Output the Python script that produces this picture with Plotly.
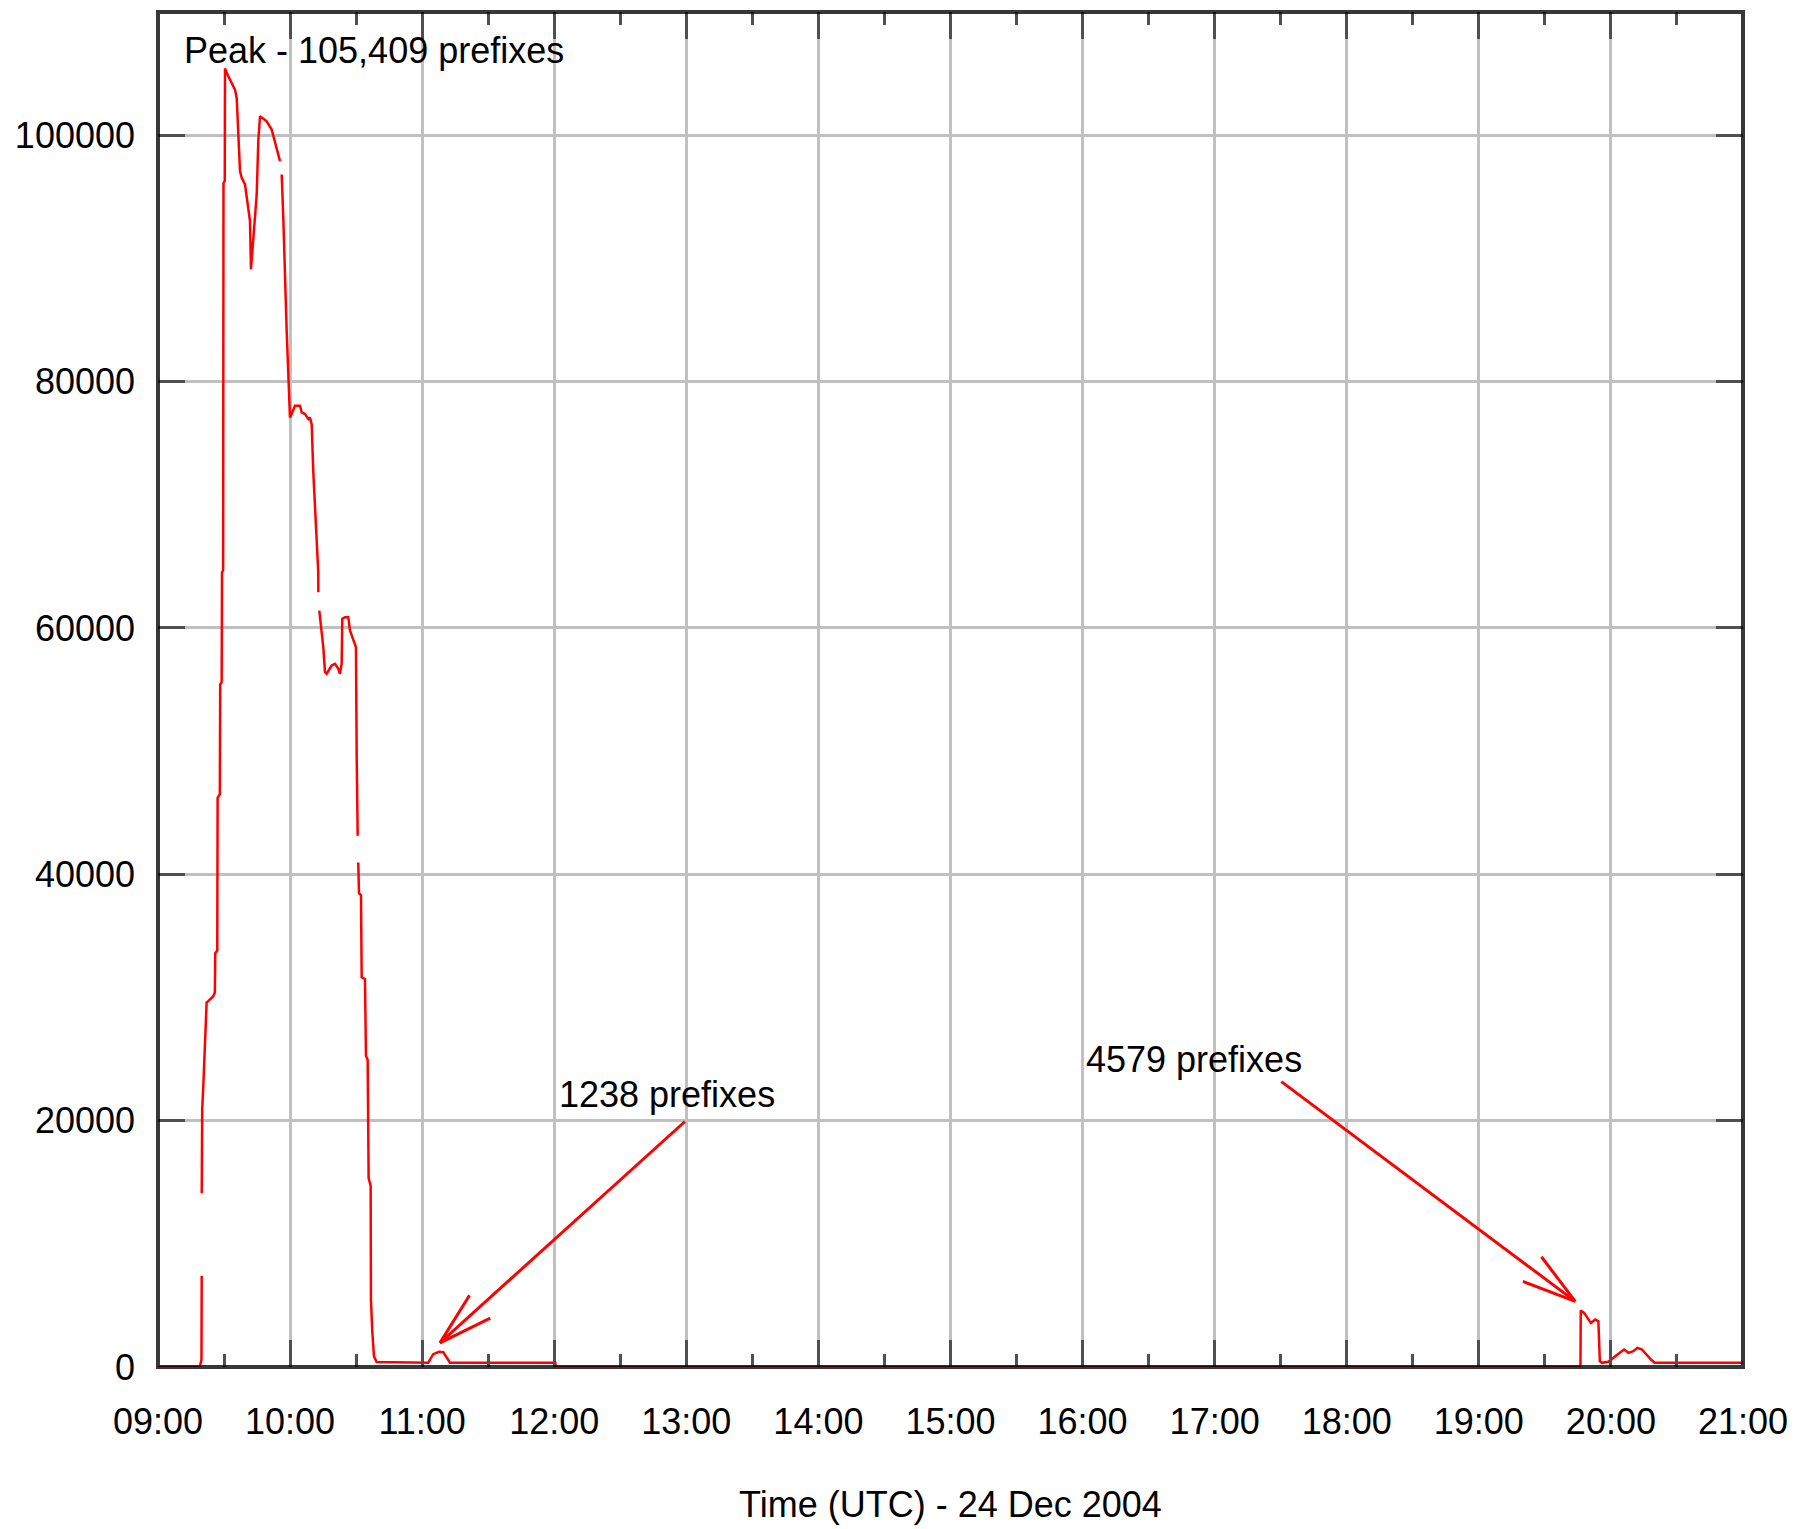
import math
import pandas as pd
import plotly.graph_objects as go

DAY = "2004-12-24"

# ---- data: withdrawn prefixes over time (None = gap in the record) ----
times = [
    "09:00:00", "09:19:00", "09:19:45", "09:19:51", "09:19:51", "09:19:52",
    "09:20:05", "09:20:35", "09:21:20", "09:22:05", "09:22:50", "09:25:05",
    "09:25:50", "09:26:00", "09:26:55", "09:27:05", "09:28:05", "09:28:15",
    "09:28:55", "09:29:05", "09:29:35", "09:29:45", "09:30:20", "09:30:26",
    "09:31:56", "09:34:58", "09:35:45", "09:37:15", "09:38:01", "09:39:31",
    "09:41:47", "09:42:14", "09:44:50", "09:45:34", "09:46:20", "09:49:22",
    "09:51:38", "09:53:08", "09:55:25", "09:55:25", "09:56:11", "09:56:55",
    "09:58:27", "09:59:11", "09:59:57", "10:00:43", "10:02:13", "10:04:30",
    "10:05:16", "10:06:47", "10:08:17", "10:09:02", "10:09:48", "10:10:33",
    "10:11:19", "10:12:05", "10:12:48", "10:12:50", "10:12:50", "10:13:16",
    "10:14:21", "10:15:05", "10:15:51", "10:16:37", "10:18:53", "10:20:24",
    "10:21:54", "10:22:40", "10:23:26", "10:23:43", "10:24:56", "10:26:26",
    "10:27:12", "10:28:42", "10:29:55", "10:30:15", "10:30:42", "10:30:42",
    "10:30:58", "10:31:18", "10:32:12", "10:32:31", "10:34:01", "10:34:28",
    "10:35:14", "10:35:41", "10:36:36", "10:36:44", "10:37:20", "10:38:06",
    "10:39:19", "11:02:45", "11:05:00", "11:07:40", "11:09:36", "11:11:07",
    "11:12:38", "12:00:30", "12:00:40", "19:46:10", "19:46:18", "19:47:50",
    "19:49:50", "19:50:53", "19:52:53", "19:54:18", "19:54:58", "19:55:55",
    "19:58:50", "20:01:00", "20:03:00", "20:06:00", "20:08:00", "20:10:06",
    "20:12:06", "20:14:06", "20:16:06", "20:18:12", "20:19:50", "21:00:00",
]
prefixes = [
    0, 0, 600, 7400, None, 14100,
    21000, 22800, 26200, 29600, 29700, 30100,
    30400, 33600, 33800, 46200, 46500, 55400,
    55600, 64500, 64700, 96100, 96300, 105409,
    104780, 103700, 103020, 97080, 96540, 96000,
    93020, 89110, 95190, 99510, 101540, 101130,
    100460, 99510, 97890, None, 96810, 93290,
    84100, 79790, 77080, 77360, 78030, 78030,
    77490, 77360, 76950, 77080, 76540, 72620,
    69660, 66820, 64520, 62900, None, 61410,
    59520, 58440, 56410, 56280, 56950, 57090,
    56680, 56280, 57090, 60740, 60870, 60870,
    59790, 58980, 58440, 49660, 43120, None,
    40950, 38470, 38300, 31630, 31480, 25260,
    24950, 15320, 14710, 5390, 2900, 880,
    410, 340, 1040, 1238, 1200, 730,
    350, 340, 0, 0, 4579, 4390,
    3850, 3580, 3850, 3720, 470, 340,
    420, 750, 1010, 1420, 1150, 1280,
    1550, 1420, 1010, 610, 350, 340,
]

# ---- axes ----
x_tick_labels = ["09:00", "10:00", "11:00", "12:00", "13:00", "14:00", "15:00",
                 "16:00", "17:00", "18:00", "19:00", "20:00", "21:00"]
x_minor_ticks = ["09:30", "10:30", "11:30", "12:30", "13:30", "14:30",
                 "15:30", "16:30", "17:30", "18:30", "19:30", "20:30"]
y_tick_values = [0, 20000, 40000, 60000, 80000, 100000]
y_tick_labels = ["0", "20000", "40000", "60000", "80000", "100000"]
Y_MAX = 110000
x_title = "Time (UTC) - 24 Dec 2004"

# ---- annotations ----
label_texts = ["Peak - 105,409 prefixes", "1238 prefixes", "4579 prefixes"]
label_times = ["09:10:45", "12:51:00", "16:50:25"]
label_values = [106900, 22090, 24930]
label_xanchor = ["left", "center", "center"]

arrow_tail_times = ["12:59:22", "17:30:18"]
arrow_tail_values = [19930, 23170]
arrow_tip_times = ["11:08:05", "19:43:48"]
arrow_tip_values = [1960, 5330]

# ---- layout geometry / style (page body adds an 8px offset) ----
W, H = 1788, 1521
ML, MR, MT, MB = 150, 53, 4, 162
FONT = "Liberation Sans, Arial, Helvetica, sans-serif"
RED = "#ff0000"
GRID = "#c0c0c0"
TICK = "#505050"


def ts(hms):
    return pd.Timestamp(f"{DAY} {hms}")


def iso(t):
    return t.strftime("%Y-%m-%d %H:%M:%S.%f")


plot_w = W - ML - MR
plot_h = H - MT - MB
px_per_s = plot_w / ((ts(x_tick_labels[-1]) - ts(x_tick_labels[0])).total_seconds())
px_per_val = plot_h / Y_MAX

fig = go.Figure()
fig.add_trace(go.Scatter(
    x=[iso(ts(t)) for t in times],
    y=prefixes,
    mode="lines",
    line=dict(color=RED, width=2.5),
    connectgaps=False,
    hoverinfo="skip",
    showlegend=False,
))

shapes = []


def head_points(tail_t, tail_v, tip_t, tip_v, length=56, half_angle=16):
    dx = (ts(tail_t) - ts(tip_t)).total_seconds() * px_per_s
    dy = (tail_v - tip_v) * px_per_val
    n = math.hypot(dx, dy)
    ux, uy = dx / n, dy / n
    pts = []
    for s in (1, -1):
        a = math.radians(s * half_angle)
        rx = ux * math.cos(a) - uy * math.sin(a)
        ry = ux * math.sin(a) + uy * math.cos(a)
        hx = ts(tip_t) + pd.Timedelta(seconds=rx * length / px_per_s)
        hv = tip_v + ry * length / px_per_val
        pts.append((iso(hx), hv))
    return pts


for tt, tv, pt, pv in zip(arrow_tail_times, arrow_tail_values, arrow_tip_times, arrow_tip_values):
    shapes.append(dict(type="line", xref="x", yref="y",
                       x0=iso(ts(tt)), y0=tv, x1=iso(ts(pt)), y1=pv,
                       line=dict(color=RED, width=3), layer="above"))
    for hx, hv in head_points(tt, tv, pt, pv):
        shapes.append(dict(type="line", xref="x", yref="y",
                           x0=iso(ts(pt)), y0=pv, x1=hx, y1=hv,
                           line=dict(color=RED, width=3), layer="above"))

# plot frame (semi-transparent so zero-valued red data shows as maroon)
shapes.append(dict(type="rect", xref="paper", yref="paper", x0=0, y0=0, x1=1, y1=1,
                   line=dict(color="rgba(0,0,0,0.78)", width=4),
                   fillcolor="rgba(0,0,0,0)", layer="above"))

annotations = []
for txt, t, v, xa in zip(label_texts, label_times, label_values, label_xanchor):
    annotations.append(dict(x=iso(ts(t)), y=v, xref="x", yref="y", text=txt,
                            showarrow=False, xanchor=xa, yanchor="middle",
                            font=dict(family=FONT, size=36, color="black")))

fig.update_layout(
    width=W, height=H,
    margin=dict(l=ML, r=MR, t=MT, b=MB, pad=0),
    paper_bgcolor="white", plot_bgcolor="white",
    font=dict(family=FONT, size=36, color="black"),
    shapes=shapes,
    annotations=annotations,
    showlegend=False,
)

fig.update_xaxes(
    type="date",
    range=[iso(ts(x_tick_labels[0])), iso(ts(x_tick_labels[-1]))],
    tickmode="array",
    tickvals=[iso(ts(t)) for t in x_tick_labels],
    ticktext=x_tick_labels,
    ticks="inside", ticklen=27, tickwidth=3, tickcolor=TICK,
    minor=dict(tickmode="array", tickvals=[iso(ts(t)) for t in x_minor_ticks],
               ticks="inside", ticklen=13, tickwidth=3, tickcolor=TICK, showgrid=False),
    showgrid=True, gridcolor=GRID, gridwidth=3,
    showline=False, mirror="allticks", zeroline=False,
    tickfont=dict(family=FONT, size=36, color="black"),
    ticklabelstandoff=30,
    title=dict(text=x_title, font=dict(family=FONT, size=36, color="black"), standoff=50),
)
fig.update_yaxes(
    range=[0, Y_MAX],
    tickmode="array",
    tickvals=y_tick_values,
    ticktext=y_tick_labels,
    ticks="inside", ticklen=27, tickwidth=3, tickcolor=TICK,
    showgrid=True, gridcolor=GRID, gridwidth=3,
    showline=False, mirror="allticks", zeroline=False,
    tickfont=dict(family=FONT, size=36, color="black"),
    ticklabelstandoff=22,
)

fig.write_html("out.html", config=dict(displayModeBar=False))
